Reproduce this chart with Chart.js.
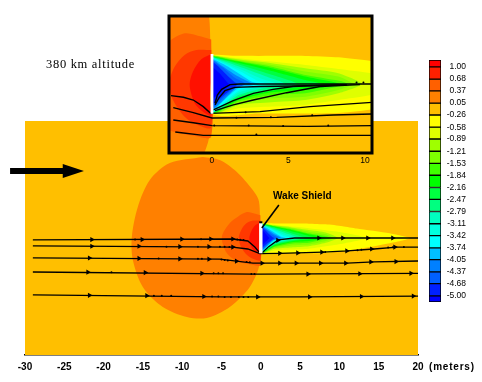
<!DOCTYPE html>
<html>
<head>
<meta charset="utf-8">
<script src="https://cdn.jsdelivr.net/npm/chart.js@4"></script>
<style>
  body { margin: 0; background: #fff; }
  canvas { position: absolute; left: 0; top: 0; }
  .note { position: absolute; color: #000; white-space: nowrap; z-index: 5; }
  #alt { left: 46px; top: 57px; font: 12.5px "Liberation Serif", serif; letter-spacing: 0.7px; }
  #shield { left: 273px; top: 190px; font: bold 10px "Liberation Sans", sans-serif; }
  #unit { left: 429px; top: 361px; font: bold 10px "Liberation Sans", sans-serif; letter-spacing: 0.8px; }
</style>
</head>
<body>
<canvas id="main" width="482" height="382"></canvas>
<canvas id="inset" width="482" height="382" style="z-index:2"></canvas>
<canvas id="bar" width="482" height="382" style="z-index:3"></canvas>
<div class="note" id="alt">380 km altitude</div>
<div class="note" id="shield">Wake Shield</div>
<div class="note" id="unit">(meters)</div>
<script>
// colour bar
const levelLabels = ["1.00","0.68","0.37","0.05","-0.26","-0.58","-0.89","-1.21","-1.53","-1.84","-2.16","-2.47","-2.79","-3.11","-3.42","-3.74","-4.05","-4.37","-4.68","-5.00"];
const levelEdges = [1.18,1.00,0.68,0.37,0.05,-0.26,-0.58,-0.89,-1.21,-1.53,-1.84,-2.16,-2.47,-2.79,-3.11,-3.42,-3.74,-4.05,-4.37,-4.68,-5.00,-5.16];
const levelColors = ["#ff0000","#ff2000","#ff6000","#ff8000","#ffbf00","#ffff00","#dfff00","#9fff00","#7fff00","#40ff00","#00ff00","#00ff40","#00ff80","#00ffbf","#00ffdf","#00ffff","#00bfff","#0080ff","#0060ff","#0020ff","#0000ff"];

// contours, x/y in meters, shield centred on 0,0
const egg = [[-7.38,10.31],[-5.22,9.92],[-3.05,8.4],[-1.02,6.11],[-0.3,4.9],[-0.13,3.5],[-0.13,-3.18],[-1.4,-6.23],[-3.94,-8.78],[-6.87,-10.18],[-9.41,-10.05],[-12.47,-8.78],[-15.01,-6.23],[-16.28,-2.8],[-16.41,0.13],[-15.65,3.94],[-14.12,7.38],[-11.58,9.54]];
const noseOuter = [[-0.05,2.9],[-0.7,3.1],[-1.78,3.31],[-2.88,2.75],[-3.94,1.9],[-4.96,0.13],[-4.33,-1.91],[-2.88,-3.0],[-1.1,-3.4],[-0.05,-3.44]];
const noseMiddle = [[-0.05,2.22],[-1.02,2.22],[-1.79,1.9],[-2.44,1.13],[-2.81,0.04],[-2.55,-1.05],[-1.79,-2.14],[-0.92,-2.68],[-0.05,-2.83]];
const noseInner = [[-0.05,1.96],[-0.7,1.61],[-1.24,0.81],[-1.46,-0.07],[-1.13,-1.26],[-0.59,-1.81],[-0.05,-2.03]];

const wake1 = [[0.05,1.93],[1.72,1.84],[6.1,1.83],[8.26,1.74],[10.4,1.5],[12.2,1.2],[16.4,0.59],[18.9,-0.04],[16.4,-0.68],[12.2,-1.44],[8.26,-1.9],[3,-1.93],[0.05,-1.95]];
const wake2 = [[0.05,1.9],[1.72,1.68],[3.9,1.46],[6.1,1.24],[8.26,0.98],[10.4,0.7],[13.5,0],[10.4,-0.72],[8.26,-1.05],[6.1,-1.37],[3.9,-1.48],[1.72,-1.59],[0.05,-1.93]];
const wake3 = [[0.05,1.88],[1.72,1.61],[3.9,1.35],[6.1,1.02],[8.26,0.7],[9.8,0],[8.26,-0.61],[6.1,-1.05],[3.9,-1.2],[1.72,-1.37],[0.05,-1.92]];
const wake4 = [[0.05,1.86],[1.72,1.55],[3.9,1.24],[6.1,0.81],[8.26,0.48],[9.2,0],[8.26,-0.39],[6.1,-0.83],[3.9,-0.94],[1.72,-1.29],[0.05,-1.9]];
const wake5 = [[0.05,1.84],[1.72,1.5],[3.9,1.13],[6.1,0.59],[8.26,0.22],[8.9,0],[8.26,-0.17],[6.1,-0.61],[3.9,-0.72],[1.72,-1.15],[0.05,-1.88]];
const wake6 = [[0.05,1.8],[1.72,1.46],[3.9,1.02],[6.1,0.48],[8.3,0],[6.1,-0.39],[3.9,-0.54],[1.72,-1.05],[0.05,-1.86]];
const wake7 = [[0.05,1.78],[1.72,1.39],[3.9,0.85],[6.1,0.26],[7.2,0],[6.1,-0.17],[3.9,-0.44],[1.72,-0.94],[0.05,-1.84]];
const wake8 = [[0.05,1.76],[1.72,1.29],[3.9,0.6],[5.6,0],[3.9,-0.33],[1.72,-0.83],[0.05,-1.82]];
const wake9 = [[0.05,1.74],[1.72,1.15],[3.5,0.5],[4.8,0],[3.5,-0.24],[1.72,-0.72],[0.05,-1.8]];
const wake10 = [[0.05,1.72],[1.72,1.02],[3.2,0.35],[4.2,0],[3.2,-0.18],[1.72,-0.57],[0.05,-1.76]];
const wake11 = [[0.05,1.68],[1.72,0.89],[2.9,0.25],[3.6,0],[2.9,-0.14],[1.72,-0.46],[0.05,-1.72]];
const wake12 = [[0.05,1.64],[1,1.15],[1.72,0.7],[2.6,0.15],[3.1,0],[1.72,-0.28],[1,-0.85],[0.05,-1.68]];
const wake13 = [[0.05,1.6],[1,0.95],[1.72,0.48],[2.6,0],[1.72,-0.13],[0.05,-1.6]];
const wake14 = [[0.05,1.55],[0.3,1.35],[0.8,1.0],[1.5,0.4],[2.2,0],[1.5,-0.3],[0.8,-0.85],[0.05,-1.5]];
const wake15 = [[0.05,1.45],[0.4,1.15],[1,0.55],[1.5,0.1],[1.7,0],[1,-0.55],[0.4,-1.05],[0.05,-1.3]];
const wake16 = [[0.05,1.1],[0.5,0.7],[1,0.1],[1.1,0],[0.5,-0.6],[0.05,-0.9]];

const wakeShapes = [wake1,wake2,wake3,wake4,wake5,wake6,wake7,wake8,wake9,wake10,wake11,wake12,wake13,wake14,wake15,wake16];

const shieldEdge = [[0,1.95],[0,-1.95]];
const shieldCap = [[-0.2,2.0],[0.2,2.0]];
const shieldLeader = [[2.3,4.2],[0.13,1.27]];

// flow lines of the full view
const flowA = [[-29,-0.25],[-3.6,-0.13],[-1.65,-0.38],[-0.76,-1.15],[-0.13,-1.9],[0.1,-1.95],[1,-1.1],[2.2,-0.25],[4.3,0],[20,0]];
const flowB = [[-29,-1.0],[-3.6,-1.15],[-1.65,-1.4],[-0.13,-2.0],[2.4,-1.95],[7.9,-1.8],[11,-1.65],[14.4,-1.4],[17.3,-1.15],[20,-1.15]];
const flowC = [[-29,-2.54],[-5.2,-2.7],[-1,-3.2],[-0.1,-3.2],[11,-3.2],[14.4,-3.05],[20,-2.93]];
const flowD = [[-29,-4.33],[-1,-4.6],[0,-4.6],[20,-4.5]];
const flowE = [[-29,-7.25],[-5,-7.5],[5,-7.5],[20,-7.4]];
const mainFlows = [flowA,flowB,flowC,flowD,flowE];

const headsA = [[-21.5,-0.2],[-15.1,-0.2],[-10.05,-0.15],[-6.36,-0.13],[-3.56,-0.13],[2.16,-0.3],[7.38,0],[10.43,0],[13.61,0],[16.79,0]];
const headsB = [[-21.5,-1.05],[-15.5,-1.05],[-10.3,-1.1],[-6.6,-1.1],[-3.56,-1.15],[2.4,-1.95],[4.7,-1.9],[7.76,-1.8],[10.94,-1.65],[14.1,-1.4],[17.05,-1.15]];
const headsC = [[-21.8,-2.55],[-15.5,-2.6],[-10.3,-2.65],[-6.6,-2.7],[-3.1,-2.95],[0.15,-3.2],[2.4,-3.2],[4.5,-3.2],[7.6,-3.2],[10.8,-3.2],[14,-3.05],[17.2,-3]];
const headsD = [[-22,-4.35],[-14.7,-4.4],[-7.5,-4.5],[6,-4.6],[12.6,-4.55],[19.1,-4.5]];
const headsE = [[-21.8,-7.3],[-14.5,-7.35],[-7.25,-7.45],[-0.4,-7.5],[6.2,-7.5],[12.8,-7.45],[19.4,-7.4]];
const mainDots = [[-16,-0.2],[-7.6,-0.15],[-3,-0.2],[-2.6,-0.22],[-2.2,-0.27],[-12,-1.1],[-8,-1.1],[-5.2,-1.12],[-4.6,-1.13],[-4,-1.14],[-13,-2.6],[-8,-2.65],[-7.5,-2.65],[-5,-2.75],[-4.6,-2.8],[-4.2,-2.85],[-1.8,-3.05],[-1.4,-3.1],[-19,-4.35],[-6,-4.5],[-5.4,-4.5],[-4.8,-4.5],[-1.2,-4.6],[-0.8,-4.6],[-13.6,-7.35],[-12.6,-7.35],[-11.4,-7.35],[-6.2,-7.45],[-5.4,-7.45],[-4.6,-7.5],[-3.8,-7.5],[-2.8,-7.5],[-2.2,-7.5],[-1.6,-7.5],[8.2,-1.78],[12.3,-1.55],[12.8,-1.5],[16.2,-1.2],[16.8,-1.18],[18.2,-1.15]];

// flow lines of the close up
const closeA = [[0.2,-1.26],[0.35,-0.72],[0.63,-0.35],[1.18,-0.04],[1.83,0],[10.46,0]];
const closeB = [[0.2,-1.37],[0.48,-0.87],[0.85,-0.44],[1.5,-0.22],[3.1,-0.17],[5.3,-0.13],[8.8,-0.07]];
const closeC = [[0.09,-1.7],[1.39,-1.09],[2.7,-0.61],[4,-0.35],[5.3,-0.17],[7.06,-0.09],[8.8,-0.04]];
const closeD = [[0.2,-1.74],[1.39,-1.37],[2.7,-1.05],[4.88,-0.57],[7.06,-0.17],[9.67,-0.04]];
const closeE = [[-2.68,-0.76],[-1.87,-0.87],[-1.22,-1.05],[-0.57,-1.48],[-0.09,-1.92],[3.14,-1.81],[6.41,-1.48],[10.46,-1.2]];
const closeF = [[-2.53,-1.55],[-1.22,-1.87],[0,-2.22],[4.23,-2.18],[7.93,-2.03],[10.46,-1.96]];
const closeG = [[-2.53,-2.35],[-1.22,-2.53],[0,-2.72],[6.19,-2.77],[10.46,-2.72]];
const closeH = [[-2.4,-3.14],[-0.57,-3.36],[10.46,-3.36]];
const closeFlows = [closeA,closeB,closeC,closeD,closeE,closeF,closeG,closeH];
const closeDots = [[1.6,-2.2],[3.85,-2.18],[6.55,-2.05],[2.2,-1.85],[9.45,0.1],[9.9,0.1],[0.15,-2.72],[2.4,-2.72],[4.65,-2.75],[7.6,-2.72],[2.9,-3.3]];

// freestream arrow of the full view
const arrowShaft = [[-31.9,8.52],[-24.5,8.52]];
const arrowHead = [[-25.2,9.41],[-22.5,8.52],[-25.2,7.63]];

const mainTicks = [-30,-25,-20,-15,-10,-5,0,5,10,15,20];
const closeTicks = [0,5,10];

const mainRange = { xMin: -30, xMax: 20, yMin: -14.9, yMax: 14.9 };
const closeRange = { xMin: -2.81, xMax: 10.46, yMin: -4.51, yMax: 4.44 };

function pts(list) {
  return list.map(([x, y]) => ({ x, y }));
}

function shape(list, color, bend) {
  const closed = pts(list.concat([list[0]]));
  return { data: closed, showLine: true, fill: "shape", backgroundColor: color, borderColor: color, borderWidth: 0, pointRadius: 0, tension: bend || 0 };
}

function stroke(list, width, color) {
  return { data: pts(list), showLine: true, fill: false, borderColor: color || "#000", borderWidth: width, pointRadius: 0, tension: 0 };
}

function marks(list, style, radius) {
  return { data: pts(list), showLine: false, pointStyle: style, rotation: style === "triangle" ? 90 : 0, pointRadius: radius, pointBackgroundColor: "#000", pointBorderColor: "#000", pointBorderWidth: 0 };
}

// back to front, shared by both views
function fieldLayers(r) {
  const layers = [shape([[r.xMin, r.yMax], [r.xMax, r.yMax], [r.xMax, r.yMin], [r.xMin, r.yMin]], levelColors[4])];
  layers.push(shape(egg, levelColors[3], 0.3));
  layers.push(shape(noseOuter, levelColors[2], 0.3));
  layers.push(shape(noseMiddle, "#ff3800", 0.3));
  layers.push(shape(noseInner, "#ff1000", 0.3));
  wakeShapes.forEach((s, i) => layers.push(shape(s, levelColors[5 + i], 0.2)));
  return layers;
}

function stack(layers) {
  // chart.js paints the lowest order last
  layers.forEach((d, i) => { d.order = layers.length - i; });
  return layers;
}

const mainLayers = fieldLayers(mainRange);
mainFlows.forEach((f) => mainLayers.push(stroke(f, 1.3)));
mainLayers.push(marks(mainDots, "circle", 1));
[headsA, headsB, headsC, headsD, headsE].forEach((h) => mainLayers.push(marks(h, "triangle", 3)));
mainLayers.push(stroke(shieldEdge, 3.4, "#fff"));
mainLayers.push(stroke(shieldCap, 2));
mainLayers.push(stroke(shieldLeader, 1.6));
mainLayers.push(shape(arrowHead, "#000"));
mainLayers.push(Object.assign(stroke(arrowShaft, 6), { clip: false }));

new Chart(document.getElementById("main"), {
  type: "scatter",
  data: { datasets: stack(mainLayers) },
  options: {
    responsive: false,
    animation: false,
    layout: { padding: { left: 25, right: 64, top: 121, bottom: 7 } },
    plugins: { legend: { display: false }, tooltip: { enabled: false } },
    scales: {
      x: {
        type: "linear", min: mainRange.xMin, max: mainRange.xMax,
        grid: { display: false, drawTicks: false }, border: { display: true, color: "#000", width: 1.5 },
        afterFit(scale) { scale.height = 20; },
        afterBuildTicks(scale) { scale.ticks = mainTicks.map((v) => ({ value: v })); },
        ticks: { color: "#000", font: { family: "Liberation Sans", size: 10, weight: "bold" }, maxRotation: 0, autoSkip: false, padding: 6 },
      },
      y: { type: "linear", display: false, min: mainRange.yMin, max: mainRange.yMax },
    },
  },
});

const closeLayers = fieldLayers(closeRange);
closeFlows.forEach((f) => closeLayers.push(stroke(f, 1.4)));
closeLayers.push(marks(closeDots, "circle", 1));
closeLayers.push(stroke(shieldEdge, 2.8, "#fff"));
closeLayers.push(Object.assign(stroke([[closeRange.xMin, closeRange.yMax], [closeRange.xMax, closeRange.yMax], [closeRange.xMax, closeRange.yMin], [closeRange.xMin, closeRange.yMin], [closeRange.xMin, closeRange.yMax]], 3), { clip: false, borderCapStyle: "square", borderJoinStyle: "miter" }));

new Chart(document.getElementById("inset"), {
  type: "scatter",
  data: { datasets: stack(closeLayers) },
  options: {
    responsive: false,
    animation: false,
    layout: { padding: { left: 169, right: 110, top: 16, bottom: 215 } },
    plugins: { legend: { display: false }, tooltip: { enabled: false } },
    scales: {
      x: {
        type: "linear", min: closeRange.xMin, max: closeRange.xMax,
        grid: { display: false, drawTicks: false }, border: { display: false },
        afterFit(scale) { scale.height = 14; },
        afterBuildTicks(scale) { scale.ticks = closeTicks.map((v) => ({ value: v })); },
        ticks: { color: "#000", font: { family: "Liberation Sans", size: 8.5 }, maxRotation: 0, autoSkip: false, padding: 3 },
      },
      y: { type: "linear", display: false, min: closeRange.yMin, max: closeRange.yMax },
    },
  },
});

new Chart(document.getElementById("bar"), {
  type: "bar",
  data: {
    labels: [""],
    datasets: levelColors.map((c, i) => ({
      data: [[levelEdges[i + 1], levelEdges[i]]],
      backgroundColor: c, borderColor: "#000", borderWidth: 1, borderSkipped: false,
      barPercentage: 1, categoryPercentage: 1, grouped: false,
    })),
  },
  options: {
    responsive: false,
    animation: false,
    layout: { padding: { left: 429, right: 16, top: 60, bottom: 80 } },
    plugins: { legend: { display: false }, tooltip: { enabled: false } },
    scales: {
      x: { display: false },
      y: {
        position: "right", min: levelEdges[21], max: levelEdges[0],
        grid: { display: false, drawTicks: false }, border: { display: false },
        afterFit(scale) { scale.width = 25; },
        afterBuildTicks(scale) { scale.ticks = levelLabels.map((l) => ({ value: parseFloat(l) })); },
        ticks: {
          color: "#000", font: { family: "Liberation Sans", size: 8.5 }, autoSkip: false, crossAlign: "far", padding: 6,
          callback(v) { return levelLabels.find((l) => parseFloat(l) === v); },
        },
      },
    },
  },
});
</script>
</body>
</html>
